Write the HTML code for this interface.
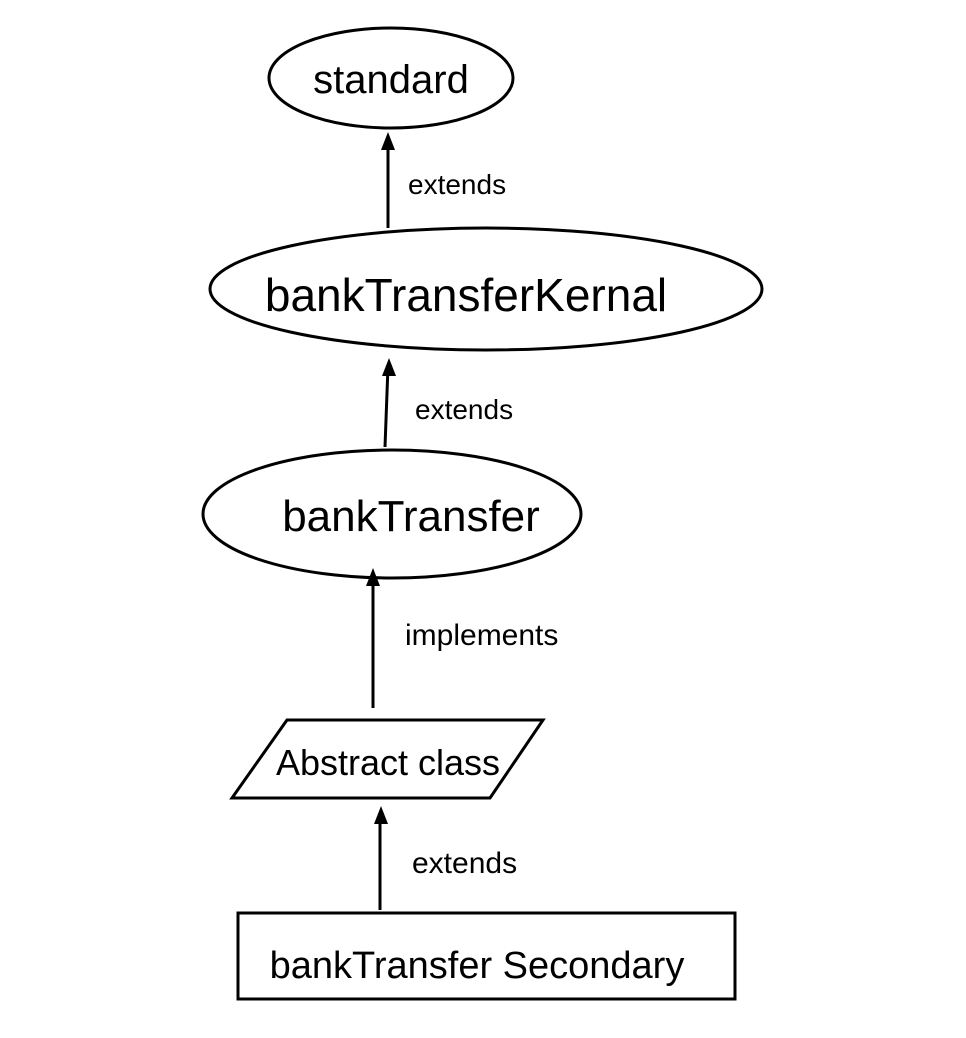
<!DOCTYPE html>
<html><head><meta charset="utf-8"><style>
html,body{margin:0;padding:0;background:#fff;width:966px;height:1038px;overflow:hidden}
svg{display:block}
text{font-family:"Liberation Sans",sans-serif;fill:#000}
</style></head><body>
<svg width="966" height="1038" viewBox="0 0 966 1038" xmlns="http://www.w3.org/2000/svg">
<g fill="none" stroke="#000" stroke-width="3">
<ellipse cx="391" cy="78" rx="122" ry="50"/>
<ellipse cx="486" cy="289" rx="276" ry="61"/>
<ellipse cx="392" cy="514" rx="189" ry="64"/>
<polygon points="287,720 543,720 490,798 232,798"/>
<rect x="238" y="913" width="497" height="86"/>
<line x1="388" y1="228" x2="388" y2="140"/>
<line x1="385" y1="447" x2="388" y2="366"/>
<line x1="373" y1="708" x2="373" y2="576"/>
<line x1="380" y1="910" x2="380" y2="814"/>
</g>
<g fill="#000">
<polygon points="388,132 381,150 395,150"/>
<polygon points="389,358 382,376 396,376"/>
<polygon points="373,568 366,586 380,586"/>
<polygon points="381,806 374,824 388,824"/>
</g>
<text x="391" y="93" font-size="40" text-anchor="middle">standard</text>
<text x="466" y="311" font-size="46" text-anchor="middle">bankTransferKernal</text>
<text x="411" y="531" font-size="44" text-anchor="middle">bankTransfer</text>
<text x="388" y="775" font-size="36" text-anchor="middle">Abstract class</text>
<text x="477" y="978" font-size="38" text-anchor="middle">bankTransfer  Secondary</text>
<text x="408" y="194" font-size="28">extends</text>
<text x="415" y="419" font-size="28">extends</text>
<text x="405" y="645" font-size="30">implements</text>
<text x="412" y="873" font-size="30">extends</text>
</svg>
</body></html>
